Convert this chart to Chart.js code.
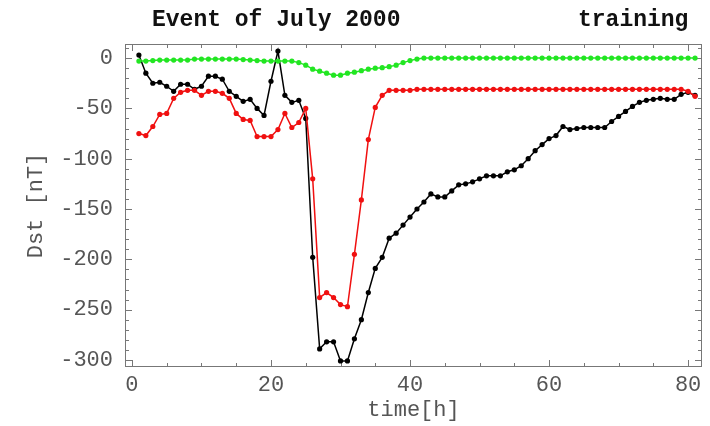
<!DOCTYPE html>
<html>
<head>
<meta charset="utf-8">
<script src="https://cdn.jsdelivr.net/npm/chart.js@4/dist/chart.umd.min.js"></script>
<style>
  html, body { margin: 0; padding: 0; background: #fff; }
  #wrap { width: 710px; height: 426px; }
</style>
</head>
<body>
<div id="wrap"><canvas id="dstChart" width="710" height="426"></canvas></div>
<script>
// Donnees (Dst en nT, heure par heure)
const hours = [
  1, 2, 3, 4, 5, 6, 7, 8, 9, 10, 11, 12, 13, 14, 15, 16, 17, 18, 19, 20,
  21, 22, 23, 24, 25, 26, 27, 28, 29, 30, 31, 32, 33, 34, 35, 36, 37, 38, 39, 40,
  41, 42, 43, 44, 45, 46, 47, 48, 49, 50, 51, 52, 53, 54, 55, 56, 57, 58, 59, 60,
  61, 62, 63, 64, 65, 66, 67, 68, 69, 70, 71, 72, 73, 74, 75, 76, 77, 78, 79, 80, 81
]
const dstObserved = [
  3, -15, -25, -24, -28, -33, -26, -26, -31, -28, -18, -18, -21, -33, -38, -43, -41, -50, -57, -23,
  7, -37, -44, -42, -60, -198, -289, -282, -282, -301, -301, -279, -260, -233, -209, -198, -179, -174, -166, -158,
  -150, -143, -135, -138, -138, -132, -126, -125, -123, -120, -117, -117, -117, -113, -111, -107, -100, -92, -86, -80,
  -77, -68, -71, -70, -69, -69, -69, -69, -63, -58, -53, -48, -44, -42, -41, -40, -41, -41, -36, -34, -37
]
const dstRed = [
  -75, -77, -68, -56, -55, -40, -34, -32, -32, -37, -33, -33, -35, -40, -55, -61, -62, -78, -78, -78,
  -71, -55, -69, -64, -50, -120, -238, -233, -238, -245, -247, -195, -141, -81, -49, -37, -32, -32, -32, -32,
  -31, -31, -31, -31, -31, -31, -31, -31, -31, -31, -31, -31, -31, -31, -31, -31, -31, -31, -31, -31,
  -31, -31, -31, -31, -31, -31, -31, -31, -31, -31, -31, -31, -31, -31, -31, -31, -31, -31, -31, -33, -38
]
const dstGreen = [
  -3, -3, -2.5, -2, -2, -2, -2, -2, -1, -1, -1, -1, -1, -1, -1, -1.5, -2, -2.5, -3, -3,
  -3, -3, -3, -4.5, -7, -11, -13, -15, -17, -17, -15, -14, -12.5, -11, -10, -9.5, -8.5, -7, -4.5, -2.5,
  -1, 0, 0, 0, 0, 0, 0, 0, 0, 0, 0, 0, 0, 0, 0, 0, 0, 0, 0, 0,
  0, 0, 0, 0, 0, 0, 0, 0, 0, 0, 0, 0, 0, 0, 0, 0, 0, 0, 0, 0, 0
]
const xTickLabels = [0, 20, 40, 60, 80]
const yTickLabels = [0, -50, -100, -150, -200, -250, -300]
const titleLeft = "Event of July 2000"
const titleRight = "training"

// Petites graduations
const xMinor = []
for (let v = 0; v <= 80; v += 5) xMinor.push(v)
const yMinor = []
for (let v = 10; v >= -300; v -= 10) yMinor.push(v)

const MONO = "'Liberation Mono', 'Courier New', monospace"

function points(values) {
  return hours.map((h, i) => ({ x: h, y: values[i] }))
}

function serie(values, color) {
  return {
    data: points(values),
    borderColor: color,
    backgroundColor: color,
    borderWidth: 1.5,
    pointRadius: 2.6,
    pointBorderWidth: 0,
    pointBackgroundColor: color,
    tension: 0,
  }
}

// Cadre + graduations vers l'interieur (style Mathematica)
const frameTicks = {
  id: "frameTicks",
  beforeDatasetsDraw(chart) {
    const { ctx, chartArea: a, scales } = chart
    const x = scales.x, y = scales.y
    ctx.save()
    ctx.strokeStyle = "#777"
    ctx.lineWidth = 1
    ctx.strokeRect(a.left + 0.5, a.top + 0.5, a.right - a.left - 1, a.bottom - a.top - 1)
    ctx.beginPath()
    xMinor.forEach((v) => {
      const len = xTickLabels.includes(v) ? 7 : 4
      const px = Math.round(x.getPixelForValue(v)) + 0.5
      ctx.moveTo(px, a.bottom); ctx.lineTo(px, a.bottom - len)
      ctx.moveTo(px, a.top); ctx.lineTo(px, a.top + len)
    })
    yMinor.forEach((v) => {
      const len = yTickLabels.includes(v) ? 7 : 4
      const py = Math.round(y.getPixelForValue(v)) + 0.5
      ctx.moveTo(a.left, py); ctx.lineTo(a.left + len, py)
      ctx.moveTo(a.right, py); ctx.lineTo(a.right - len, py)
    })
    ctx.stroke()
    ctx.restore()
  },
  afterDraw(chart) {
    const ctx = chart.ctx
    ctx.save()
    ctx.fillStyle = "#111"
    ctx.font = "bold 23px " + MONO
    ctx.textBaseline = "alphabetic"
    ctx.fillText(titleLeft, 152, 26)
    ctx.fillText(titleRight, 578, 26)
    ctx.restore()
  },
}

new Chart(document.getElementById("dstChart"), {
  type: "line",
  data: {
    datasets: [
      serie(dstGreen, "#22e622"),
      serie(dstRed, "#f01010"),
      serie(dstObserved, "#000000"),
    ],
  },
  options: {
    responsive: false,
    animation: false,
    devicePixelRatio: 1,
    layout: { padding: { top: 44, right: 8, bottom: 0, left: 0 } },
    plugins: { legend: { display: false }, tooltip: { enabled: false } },
    scales: {
      x: {
        type: "linear",
        min: -1,
        max: 82,
        afterBuildTicks: (s) => { s.ticks = xTickLabels.map((v) => ({ value: v })) },
        afterFit: (s) => { s.height = 59 },
        grid: { display: false },
        border: { display: false },
        ticks: { padding: -3, color: "#555", font: { family: MONO, size: 22 } },
        title: {
          display: true,
          text: "time[h]",
          color: "#555",
          font: { family: MONO, size: 22 },
          padding: { top: 0, bottom: 3 },
        },
      },
      y: {
        min: -307,
        max: 14,
        afterBuildTicks: (s) => { s.ticks = yTickLabels.map((v) => ({ value: v })) },
        afterFit: (s) => { s.width = 125 },
        grid: { display: false },
        border: { display: false },
        ticks: { padding: 4, color: "#555", font: { family: MONO, size: 22 } },
        title: {
          display: true,
          text: "Dst [nT]",
          color: "#555",
          font: { family: MONO, size: 22 },
          padding: { top: 23, bottom: 0 },
        },
      },
    },
  },
  plugins: [frameTicks],
})
</script>
</body>
</html>
